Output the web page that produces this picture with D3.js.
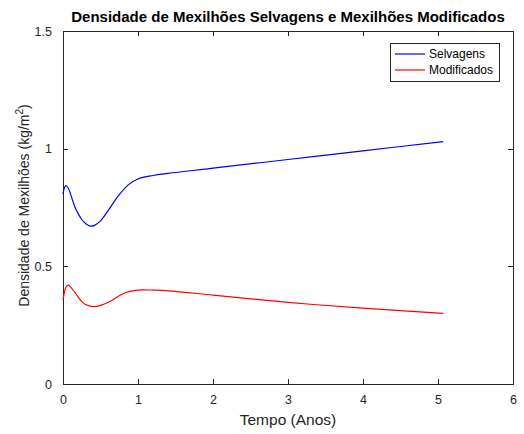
<!DOCTYPE html>
<html><head><meta charset="utf-8">
<script src="https://cdn.jsdelivr.net/npm/d3@7"></script>
<style>body{margin:0;background:#fff}svg{display:block}text{font-family:"Liberation Sans",Arial,sans-serif}</style>
</head><body><svg id="c" width="524" height="434"></svg>
<script>
const tBlue = [0, 0.02, 0.04, 0.07, 0.1, 0.13, 0.16, 0.2, 0.25, 0.3, 0.36, 0.42, 0.5, 0.6, 0.73, 0.87, 1.0, 1.2, 1.4, 2, 3, 4, 5.07];
const selvagens = [0.807, 0.835, 0.843, 0.833, 0.808, 0.778, 0.751, 0.725, 0.699, 0.682, 0.671, 0.674, 0.693, 0.736, 0.796, 0.846, 0.871, 0.886, 0.895, 0.917, 0.954, 0.991, 1.03];
const tRed = [0, 0.02, 0.04, 0.067, 0.1, 0.15, 0.2, 0.25, 0.3, 0.42, 0.55, 0.65, 0.75, 0.85, 0.95, 1.05, 1.2, 1.4, 2, 3, 4, 5.07];
const modificados = [0.357, 0.39, 0.412, 0.421, 0.413, 0.393, 0.37, 0.35, 0.338, 0.329, 0.34, 0.355, 0.375, 0.39, 0.397, 0.4, 0.399, 0.396, 0.378, 0.347, 0.322, 0.300];
const xTicks = [0, 1, 2, 3, 4, 5, 6];
const yTicks = [0, 0.5, 1, 1.5];
const seriesNames = ["Selvagens", "Modificados"];
const colors = ["#0000ff", "#ff0000"];

const svg = d3.select("#c");
const L = 63, R = 513, T = 31, B = 384;
const x = d3.scaleLinear().domain([0, 6]).range([L, R]);
const y = d3.scaleLinear().domain([0, 1.5]).range([B, T]);
const axCol = "#262626";

svg.append("rect").attr("x", L).attr("y", T).attr("width", R - L).attr("height", B - T)
  .attr("fill", "none").attr("stroke", axCol).attr("stroke-width", 1).attr("shape-rendering", "crispEdges");

const fmt = d => d3.format("")(d);
const xb = svg.append("g").attr("transform", `translate(0,${B})`)
  .call(d3.axisBottom(x).tickValues(xTicks).tickSize(-5).tickPadding(11).tickFormat(fmt));
const xt = svg.append("g").attr("transform", `translate(0,${T})`)
  .call(d3.axisTop(x).tickValues(xTicks).tickSize(-5).tickFormat(""));
const yl = svg.append("g").attr("transform", `translate(${L},0)`)
  .call(d3.axisLeft(y).tickValues(yTicks).tickSize(-5).tickPadding(11).tickFormat(fmt));
const yr = svg.append("g").attr("transform", `translate(${R},0)`)
  .call(d3.axisRight(y).tickValues(yTicks).tickSize(-5).tickFormat(""));
[xb, xt, yl, yr].forEach(g => {
  g.select(".domain").remove();
  g.selectAll("line").attr("stroke", axCol).attr("shape-rendering", "crispEdges");
  g.selectAll("text").attr("fill", axCol).style("font-size", "12.5px").style("font-family", '"Liberation Sans",Arial,sans-serif');
});

const line = d3.line().x(d => x(d[0])).y(d => y(d[1])).curve(d3.curveCatmullRom.alpha(0.5));
svg.append("path").datum(tBlue.map((t, i) => [t, selvagens[i]]))
  .attr("d", line).attr("fill", "none").attr("stroke", colors[0]).attr("stroke-width", 1.2);
svg.append("path").datum(tRed.map((t, i) => [t, modificados[i]]))
  .attr("d", line).attr("fill", "none").attr("stroke", colors[1]).attr("stroke-width", 1.2);

svg.append("text").attr("x", (L + R) / 2).attr("y", 22).attr("text-anchor", "middle")
  .style("font-size", "15px").style("font-weight", "bold").attr("fill", "#000")
  .text("Densidade de Mexilhões Selvagens e Mexilhões Modificados");

svg.append("text").attr("x", (L + R) / 2).attr("y", 425).attr("text-anchor", "middle")
  .style("font-size", "15.5px").attr("fill", axCol).text("Tempo (Anos)");
const yLab = svg.append("text").attr("transform", `translate(29,${(T + B) / 2 - 2}) rotate(-90)`)
  .attr("text-anchor", "middle").style("font-size", "14px").attr("fill", axCol);
yLab.append("tspan").text("Densidade de Mexilhões (kg/m");
yLab.append("tspan").attr("dy", -6).style("font-size", "10px").text("2");
yLab.append("tspan").attr("dy", 6).text(")");

const lg = svg.append("g");
lg.append("rect").attr("x", 390.5).attr("y", 43.5).attr("width", 109).attr("height", 38)
  .attr("fill", "#fff").attr("stroke", axCol).attr("stroke-width", 1);
seriesNames.forEach((n, i) => {
  const yy = 54 + i * 16;
  lg.append("line").attr("x1", 395).attr("x2", 425).attr("y1", yy).attr("y2", yy)
    .attr("stroke", colors[i]).attr("stroke-width", 1.2);
  lg.append("text").attr("x", 429).attr("y", yy + 4).style("font-size", "12px")
    .attr("fill", "#000").text(n);
});
</script></body></html>
